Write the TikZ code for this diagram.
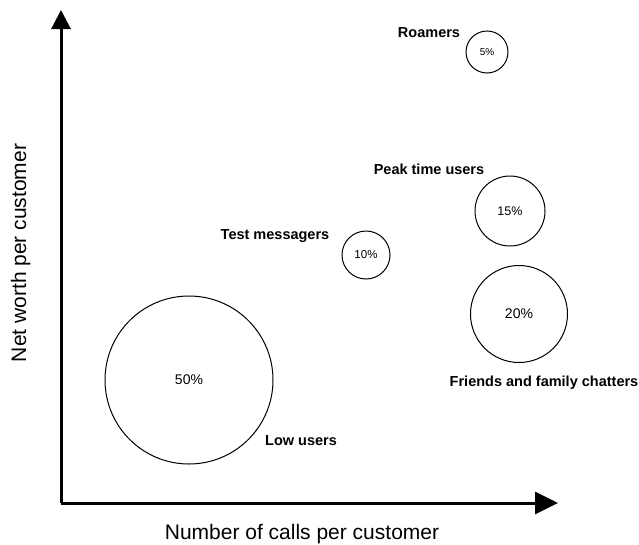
\documentclass[tikz,border=0pt]{standalone}
\usepackage{fontspec}
\setmainfont{Liberation Sans}
\usetikzlibrary{arrows.meta}

\tikzset{
  bubble/.style={circle, draw, line width=1pt, inner sep=0pt},
  segment/.style={anchor=base, font=\fontsize{14.5}{16}\selectfont\bfseries},
  axislabel/.style={anchor=base, font=\fontsize{21}{23}\selectfont},
}

\begin{document}
\begin{tikzpicture}[x=1pt, y=-1pt]
\useasboundingbox (0,0) rectangle (639,544);

% Assi
\coordinate (O) at (61,503);
\coordinate (ytip) at (61,10);
\coordinate (xtip) at (558,503);
\draw[line width=3pt, -{Triangle[length=19pt,width=19pt]}] (O) -- (ytip);
\draw[line width=3pt, -{Triangle[length=23pt,width=22pt]}] (O) -- (xtip);

% Etichette degli assi
\node[axislabel, rotate=90] (ylab) at (26,253) {Net worth per customer};
\node[axislabel] (xlab) at (302,539) {Number of calls per customer};

% Segmenti di clientela
\node[bubble, minimum size=168pt, font=\fontsize{14}{16}\selectfont] (low) at (189,380) {50\%};
\node[bubble, minimum size=48pt, font=\fontsize{11.5}{13}\selectfont] (test) at (366,255) {10\%};
\node[bubble, minimum size=70pt, font=\fontsize{12.5}{14}\selectfont] (peak) at (510,211) {15\%};
\node[bubble, minimum size=97pt, font=\fontsize{14}{16}\selectfont] (friends) at (519,314) {20\%};
\node[bubble, minimum size=42pt, font=\fontsize{10}{12}\selectfont] (roam) at (487,52) {5\%};

% Nomi dei segmenti
\node[segment] (lowname) at (301,445) {Low users};
\node[segment] (testname) at (275,239) {Test messagers};
\node[segment] (peakname) at (429,174) {Peak time users};
\node[segment] (friendsname) at (544,386) {Friends and family chatters};
\node[segment] (roamname) at (429,37) {Roamers};

\end{tikzpicture}
\end{document}
